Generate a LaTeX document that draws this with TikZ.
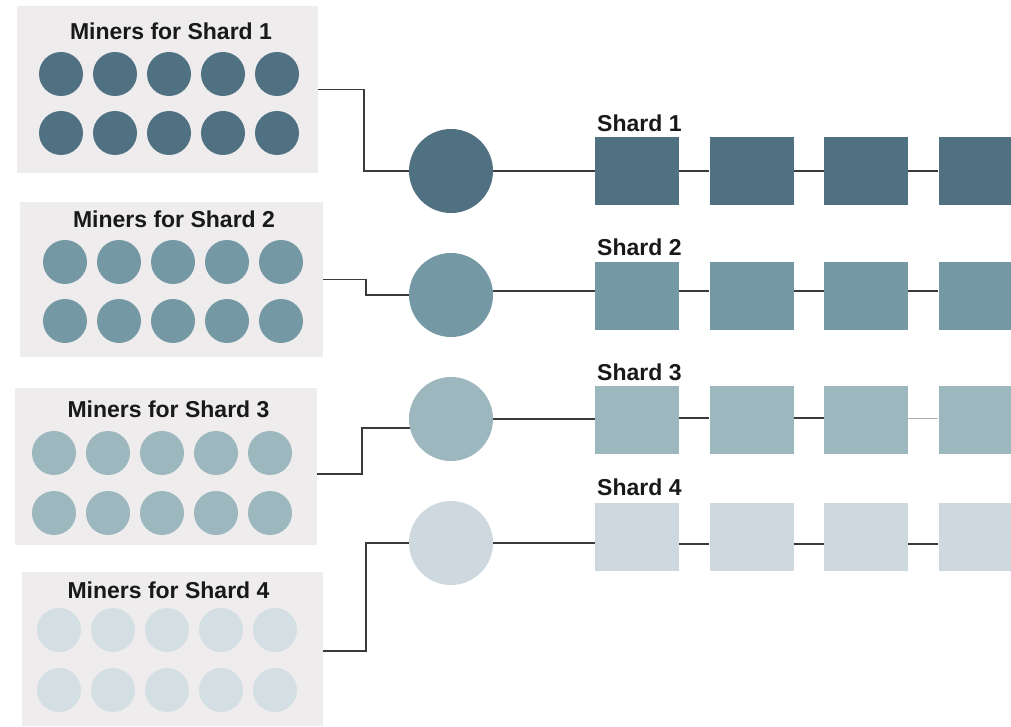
\documentclass[tikz,border=0pt]{standalone}
\usepackage{fontspec}
\setmainfont{Liberation Sans}
\definecolor{boxgray}{HTML}{EEECEC}
\definecolor{shA}{HTML}{507182}
\definecolor{shB}{HTML}{7599A4}
\definecolor{shC}{HTML}{9DB7BE}
\definecolor{shD}{HTML}{CDD9DE}
\definecolor{minerD}{HTML}{D4DFE3}
\definecolor{wire}{HTML}{3A3A3A}
\begin{document}
\begin{tikzpicture}[x=1pt,y=-1pt,
  minerbox/.style={rectangle, fill=boxgray, inner sep=0pt},
  miner/.style={circle, fill=#1, minimum size=44pt, inner sep=0pt},
  hub/.style={circle, fill=#1, minimum size=84pt, inner sep=0pt},
  block/.style={rectangle, fill=#1, minimum width=84pt, minimum height=68pt, inner sep=0pt},
  title/.style={font=\fontsize{23}{27}\selectfont\bfseries, text=black!90, inner sep=0pt, anchor=base},
  shardlabel/.style={font=\fontsize{23}{27}\selectfont\bfseries, text=black!90, inner sep=0pt, anchor=base west},
  wireline/.style={draw=wire, line width=1.5pt}]
\useasboundingbox (0,0) rectangle (1011,727);
\clip (0,0) rectangle (1011,727);
\fill[white] (0,0) rectangle (1011,727);

% miner groups
\node[minerbox, minimum width=301pt, minimum height=167pt] (m1) at (167.5,89.5) {};
\node[minerbox, minimum width=303pt, minimum height=155pt] (m2) at (171.5,279.5) {};
\node[minerbox, minimum width=302pt, minimum height=157pt] (m3) at (166,466.5) {};
\node[minerbox, minimum width=301pt, minimum height=154pt] (m4) at (172.5,649) {};

\node[title] (t1) at (171,40) {Miners for Shard 1};
\node[title] (t2) at (174,228) {Miners for Shard 2};
\node[title] (t3) at (168.5,417) {Miners for Shard 3};
\node[title] (t4) at (168.5,598) {Miners for Shard 4};

\foreach \k/\xo/\ya/\yb/\col in {1/61/74/133/shA, 2/65/262/321/shB, 3/54/453/513/shC, 4/59/630/690/minerD}{
  \foreach \i in {0,...,4}{
    \node[miner=\col] (p\k a\i) at (\xo+54*\i,\ya) {};
    \node[miner=\col] (p\k b\i) at (\xo+54*\i,\yb) {};
  }
}

% shard hubs
\node[hub=shA] (c1) at (451,171) {};
\node[hub=shB] (c2) at (451,295) {};
\node[hub=shC] (c3) at (451,419) {};
\node[hub=shD] (c4) at (451,543) {};

% shard chains
\foreach \k/\yc/\col in {1/171/shA, 2/295.5/shB, 3/419.5/shC, 4/536.5/shD}{
  \foreach \j/\xc in {1/637,2/751.5,3/866,4/980.5}{
    \node[block=\col] (s\k\j) at (\xc,\yc) {};
  }
}

\node[shardlabel] (l1) at (597,132) {Shard 1};
\node[shardlabel] (l2) at (597,255) {Shard 2};
\node[shardlabel] (l3) at (597,380) {Shard 3};
\node[shardlabel] (l4) at (597,495) {Shard 4};

% elbow connectors from miner groups to hubs
\coordinate (k1) at (364,0);
\coordinate (k2) at (366,0);
\coordinate (k3) at (362,0);
\coordinate (k4) at (366,0);
\draw[wireline] (m1.east) -- (m1.east -| k1) |- (c1.west);
\draw[wireline] (m2.east) -- (m2.east -| k2) |- (c2.west);
\draw[wireline] ([yshift=-7.5pt]m3.east) coordinate (e3) -- (e3 -| k3) |- (c3.192);
\draw[wireline] ([yshift=-2pt]m4.east) coordinate (e4) -- (e4 -| k4) |- (c4.west);

% hub to chain and block links
\draw[wireline] (c1.east) -- (s11.west |- c1.east);
\draw[wireline] ([yshift=4pt]c2.east) coordinate (h2) -- (s21.west |- h2);
\draw[wireline] (c3.east) -- (s31.west |- c3.east);
\draw[wireline] (c4.east) -- (s41.west |- c4.east);
\foreach \k/\yl in {1/171, 2/291, 3/418, 4/544}{
  \coordinate (r\k) at (0,\yl);
  \draw[wireline] (s\k1.east |- r\k) -- (s\k2.west |- r\k);
}
\draw[wireline] (s12.east |- r1) -- (s13.west |- r1);
\draw[wireline] (s13.east |- r1) -- (s14.west |- r1);
\draw[wireline] (s22.east |- r2) -- (s23.west |- r2);
\draw[wireline] (s23.east |- r2) -- (s24.west |- r2);
\draw[wireline] (s32.east |- r3) -- (s33.west |- r3);
\draw[draw=gray!60, line width=0.6pt] (s33.east |- r3) -- (s34.west |- r3);
\draw[wireline] (s42.east |- r4) -- (s43.west |- r4);
\draw[wireline] (s43.east |- r4) -- (s44.west |- r4);
\end{tikzpicture}
\end{document}
